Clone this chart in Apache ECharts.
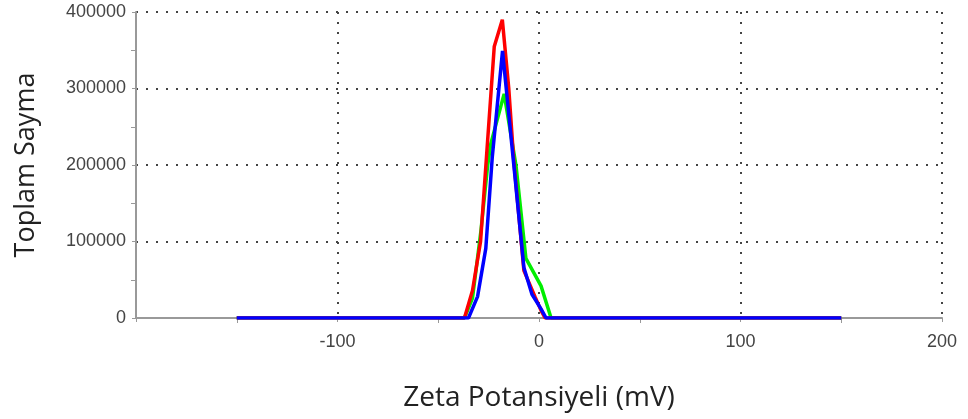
<!DOCTYPE html>
<html>
<head>
    <meta charset="UTF-8">
    <title>Zeta Potansiyeli</title>
    <script src="https://cdn.jsdelivr.net/npm/echarts@6/dist/echarts.min.js"></script>
    <style>
        html, body { margin: 0; padding: 0; background: #fff; }
        #main { width: 968px; height: 419px; }
    </style>
</head>
<body>
<div id="main"></div>
<script type="text/javascript">
    // okunan degerler (mV, sayim)
    var redX = [-150, -37, -33, -29, -25.5, -22.2, -18.2, -15, -12.5, -7.5, -2, 1, 3, 150];
    var redY = [0, 0, 36000, 100000, 232000, 355000, 390000, 300000, 205000, 62000, 28000, 10000, 0, 0];

    var greenX = [-150, -37, -33, -28.9, -25.5, -23.9, -17.3, -11.4, -6.5, 1, 6, 150];
    var greenY = [0, 0, 26000, 112000, 199000, 228000, 293000, 199000, 78000, 42000, 0, 0];

    var blueX = [-150, -35, -30.5, -26.4, -23.2, -18.1, -12.5, -7.5, -3.5, 1, 3.5, 150];
    var blueY = [0, 0, 28000, 91000, 210000, 349000, 200000, 66000, 31000, 12000, 0, 0];

    function pairs(xs, ys) {
        var out = [];
        for (var i = 0; i < xs.length; i++) {
            out.push([xs[i], ys[i]]);
        }
        return out;
    }

    var myChart = echarts.init(document.getElementById('main'));

    var dotted = {
        show: true,
        lineStyle: {
            color: '#444',
            width: 2,
            type: [2, 8]
        }
    };

    var option = {
        animation: false,
        grid: {
            left: 136,
            right: 26,
            top: 12,
            bottom: 101
        },
        xAxis: {
            type: 'value',
            min: -200,
            max: 200,
            interval: 100,
            name: 'Zeta Potansiyeli (mV)',
            nameLocation: 'middle',
            nameGap: 66,
            nameTextStyle: {
                fontFamily: 'Open Sans',
                fontSize: 28,
                color: '#222'
            },
            axisLine: {
                onZero: false,
                lineStyle: { color: '#999', width: 2 }
            },
            axisTick: {
                show: true,
                length: 4,
                lineStyle: { color: '#999' }
            },
            minorTick: {
                show: true,
                splitNumber: 2,
                length: 5,
                lineStyle: { color: '#999' }
            },
            axisLabel: {
                fontFamily: 'Liberation Sans',
                fontSize: 18,
                color: '#444',
                margin: 15,
                formatter: function (value) {
                    return value === -200 ? '' : String(value);
                }
            },
            splitLine: dotted
        },
        yAxis: {
            type: 'value',
            min: 0,
            max: 400000,
            interval: 100000,
            name: 'Toplam Sayma',
            nameLocation: 'middle',
            nameGap: 96,
            nameTextStyle: {
                fontFamily: 'Open Sans',
                fontSize: 27,
                color: '#222'
            },
            axisLine: {
                show: true,
                onZero: false,
                lineStyle: { color: '#999', width: 2 }
            },
            axisTick: {
                show: true,
                length: 4,
                lineStyle: { color: '#999' }
            },
            minorTick: {
                show: true,
                splitNumber: 2,
                length: 5,
                lineStyle: { color: '#999' }
            },
            axisLabel: {
                fontFamily: 'Liberation Sans',
                fontSize: 18,
                color: '#444',
                margin: 10,
                formatter: function (value) {
                    return String(value);
                }
            },
            splitLine: dotted
        },
        series: [
            {
                name: 'Ölçüm 2',
                type: 'line',
                showSymbol: false,
                lineStyle: { color: '#00ee00', width: 3.5 },
                data: pairs(greenX, greenY)
            },
            {
                name: 'Ölçüm 1',
                type: 'line',
                showSymbol: false,
                lineStyle: { color: '#ff0000', width: 3.5 },
                data: pairs(redX, redY)
            },
            {
                name: 'Ölçüm 3',
                type: 'line',
                showSymbol: false,
                lineStyle: { color: '#0000ff', width: 3.5 },
                data: pairs(blueX, blueY)
            }
        ]
    };
    myChart.setOption(option);
</script>
</body>
</html>
